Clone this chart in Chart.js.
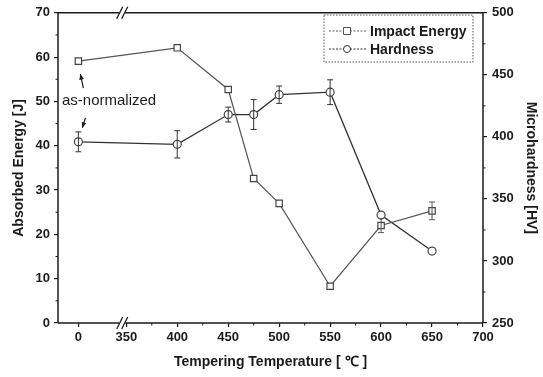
<!DOCTYPE html>
<html lang="en">
<head>
<meta charset="UTF-8">
<title>Impact energy and hardness vs tempering temperature</title>
<script src="https://cdn.jsdelivr.net/npm/chart.js"></script>
<style>
    body { margin: 0; background: #fff; }
    #wrap { width: 543px; height: 377px; }
</style>
</head>
<body>
<div id="wrap"><canvas id="chart" width="543" height="377"></canvas></div>
<script>
// values
const temps = [0, 400, 450, 475, 500, 550, 600, 650];
const impactEnergy = [59.1, 62.1, 52.7, 32.6, 27.0, 8.3, 22.0, 25.3];
const impactErr = [0, 0, 0, 0, 0, 0, 1.6, 2.0];
const hardness = [396, 394, 418, 418, 434, 436, 337, 308];
const hardnessErr = [8, 11, 6, 12, 7, 10, 0, 0];
const xTicks = [0, 350, 400, 450, 500, 550, 600, 650, 700];
const yTicks = [0, 10, 20, 30, 40, 50, 60, 70];
const y2Ticks = [250, 300, 350, 400, 450, 500];

// broken axis: the "0" sample sits just left of the break
const ZERO_AT = 303;
const BREAK_AT = 346;
const pos = t => (t === 0 ? ZERO_AT : t);

const ink = '#1b1b1b';
const tickFont = { family: 'Liberation Sans, Arial, sans-serif', size: 13, weight: 'bold' };
const titleFont = { family: 'Liberation Sans, Arial, sans-serif', size: 14, weight: 'bold' };

const fixedTicks = (vals, map = v => v) => scale => { scale.ticks = vals.map(v => ({ value: map(v) })); };

// frame, broken axis marks, minor ticks
const framePlugin = {
    id: 'frame',
    afterDatasetsDraw(chart) {
        const { ctx, chartArea: a, scales } = chart;
        const bx = scales.x.getPixelForValue(BREAK_AT);
        ctx.save();
        ctx.strokeStyle = ink;
        ctx.lineWidth = 1.5;
        ctx.beginPath();
        ctx.moveTo(a.left, a.top); ctx.lineTo(a.left, a.bottom);
        ctx.moveTo(a.right, a.top); ctx.lineTo(a.right, a.bottom);
        [a.top, a.bottom].forEach(y => {
            ctx.moveTo(a.left, y); ctx.lineTo(bx - 3, y);
            ctx.moveTo(bx + 3, y); ctx.lineTo(a.right, y);
        });
        ctx.stroke();
        ctx.lineWidth = 1.3;
        ctx.beginPath();
        [a.top, a.bottom].forEach(y => {
            [-2.5, 2.5].forEach(o => {
                ctx.moveTo(bx + o - 3, y + 6);
                ctx.lineTo(bx + o + 3, y - 6);
            });
        });
        ctx.stroke();
        // minor ticks
        ctx.lineWidth = 1;
        ctx.beginPath();
        for (let v = 5; v < 70; v += 10) {
            const y = scales.y.getPixelForValue(v);
            ctx.moveTo(a.left, y); ctx.lineTo(a.left - 2.5, y);
        }
        for (let v = 275; v < 500; v += 50) {
            const y = scales.y2.getPixelForValue(v);
            ctx.moveTo(a.right, y); ctx.lineTo(a.right + 2.5, y);
        }
        for (let v = 375; v < 700; v += 50) {
            const x = scales.x.getPixelForValue(v);
            ctx.moveTo(x, a.bottom); ctx.lineTo(x, a.bottom + 2.5);
        }
        ctx.stroke();
        ctx.restore();
    }
};

// vertical error bars
const errorPlugin = {
    id: 'errors',
    afterDatasetsDraw(chart) {
        const { ctx } = chart;
        chart.data.datasets.forEach((ds, i) => {
            const ys = chart.scales[ds.yAxisID];
            const meta = chart.getDatasetMeta(i);
            ctx.save();
            ctx.strokeStyle = ds.borderColor;
            ctx.lineWidth = 1;
            ds.errors.forEach((e, j) => {
                if (!e) return;
                const x = meta.data[j].x;
                const v = ds.data[j].y;
                const y1 = ys.getPixelForValue(v + e);
                const y0 = ys.getPixelForValue(v - e);
                ctx.beginPath();
                ctx.moveTo(x, y1); ctx.lineTo(x, y0);
                ctx.moveTo(x - 3, y1); ctx.lineTo(x + 3, y1);
                ctx.moveTo(x - 3, y0); ctx.lineTo(x + 3, y0);
                ctx.stroke();
            });
            ctx.restore();
        });
    }
};

// legend box and the "as-normalized" note
const notesPlugin = {
    id: 'notes',
    afterDraw(chart) {
        const { ctx, scales } = chart;
        ctx.save();
        // legend
        const lx = 324, ly = 15, lw = 149, lh = 47;
        ctx.setLineDash([1.5, 1.5]);
        ctx.strokeStyle = '#555';
        ctx.lineWidth = 1;
        ctx.strokeRect(lx, ly, lw, lh);
        ctx.setLineDash([]);
        ctx.font = 'bold 14px Liberation Sans, Arial, sans-serif';
        ctx.textBaseline = 'middle';
        chart.data.datasets.forEach((ds, i) => {
            const y = ly + 16 + i * 18;
            ctx.strokeStyle = ds.borderColor;
            ctx.setLineDash([2, 1.5]);
            ctx.beginPath();
            ctx.moveTo(lx + 5, y); ctx.lineTo(lx + 42, y);
            ctx.stroke();
            ctx.setLineDash([]);
            ctx.fillStyle = '#fff';
            ctx.beginPath();
            if (ds.pointStyle === 'rect') ctx.rect(lx + 19.5, y - 3.5, 7, 7);
            else ctx.arc(lx + 23, y, 3.5, 0, Math.PI * 2);
            ctx.fill(); ctx.stroke();
            ctx.fillStyle = ink;
            ctx.fillText(ds.label, lx + 46, y + 1);
        });
        // annotation
        const x0 = scales.x.getPixelForValue(ZERO_AT);
        ctx.font = '15px Liberation Sans, Arial, sans-serif';
        ctx.fillStyle = ink;
        ctx.textBaseline = 'middle';
        ctx.fillText('as-normalized', 62, 101);
        const arrow = (xa, ya, xb, yb) => {
            ctx.strokeStyle = ink;
            ctx.lineWidth = 1.2;
            ctx.beginPath(); ctx.moveTo(xa, ya); ctx.lineTo(xb, yb); ctx.stroke();
            const ang = Math.atan2(yb - ya, xb - xa);
            ctx.beginPath();
            ctx.moveTo(xb, yb);
            ctx.lineTo(xb - 6 * Math.cos(ang - 0.4), yb - 6 * Math.sin(ang - 0.4));
            ctx.lineTo(xb - 6 * Math.cos(ang + 0.4), yb - 6 * Math.sin(ang + 0.4));
            ctx.closePath(); ctx.fill();
        };
        const ySq = scales.y.getPixelForValue(impactEnergy[0]);
        const yCi = scales.y2.getPixelForValue(hardness[0]);
        arrow(x0 + 5, ySq + 27, x0 + 2, ySq + 13);
        arrow(x0 + 7, yCi - 24, x0 + 4, yCi - 14);
        ctx.restore();
    }
};

new Chart(document.getElementById('chart'), {
    type: 'line',
    data: {
        datasets: [
            {
                label: 'Impact Energy',
                data: temps.map((t, i) => ({ x: pos(t), y: impactEnergy[i] })),
                errors: impactErr,
                yAxisID: 'y',
                borderColor: '#555',
                borderWidth: 1.2,
                pointStyle: 'rect',
                pointRadius: 4.5,
                pointBackgroundColor: '#fff',
                pointBorderColor: '#444',
                pointBorderWidth: 1.2
            },
            {
                label: 'Hardness',
                data: temps.map((t, i) => ({ x: pos(t), y: hardness[i] })),
                errors: hardnessErr,
                yAxisID: 'y2',
                borderColor: '#333',
                borderWidth: 1.3,
                pointStyle: 'circle',
                pointRadius: 4,
                pointBackgroundColor: '#fff',
                pointBorderColor: '#444',
                pointBorderWidth: 1.2
            }
        ]
    },
    options: {
        responsive: false,
        animation: false,
        layout: { padding: { top: 12, left: 0, right: 0, bottom: 0 } },
        plugins: { legend: { display: false }, tooltip: { enabled: false } },
        scales: {
            x: {
                type: 'linear', min: 283, max: 700,
                afterBuildTicks: fixedTicks(xTicks, pos),
                afterFit: s => { s.height = 54; },
                grid: { drawOnChartArea: false, tickLength: 4, color: ink, lineWidth: 1.2 },
                border: { display: false },
                ticks: {
                    color: ink, font: tickFont, padding: 3, maxRotation: 0, autoSkip: false,
                    callback: v => (v === ZERO_AT ? '0' : String(v))
                },
                title: { display: true, text: 'Tempering Temperature [ ℃ ]', color: ink, font: titleFont, padding: { top: 6, bottom: 6 } }
            },
            y: {
                position: 'left', min: 0, max: 70,
                afterBuildTicks: fixedTicks(yTicks),
                afterFit: s => { s.width = 58; },
                grid: { drawOnChartArea: false, tickLength: 4, color: ink, lineWidth: 1.2 },
                border: { display: false },
                ticks: { color: ink, font: tickFont, padding: 4, autoSkip: false },
                title: { display: true, text: 'Absorbed Energy [J]', color: ink, font: titleFont, padding: { top: 11, bottom: 4 } }
            },
            y2: {
                position: 'right', min: 250, max: 500,
                afterBuildTicks: fixedTicks(y2Ticks),
                afterFit: s => { s.width = 60; },
                grid: { drawOnChartArea: false, tickLength: 4, color: ink, lineWidth: 1.2 },
                border: { display: false },
                ticks: { color: ink, font: tickFont, padding: 5, autoSkip: false },
                title: { display: true, text: 'Microhardness [HV]', color: ink, font: titleFont, padding: { top: 4, bottom: 4 } }
            }
        }
    },
    plugins: [framePlugin, errorPlugin, notesPlugin]
});
</script>
</body>
</html>
